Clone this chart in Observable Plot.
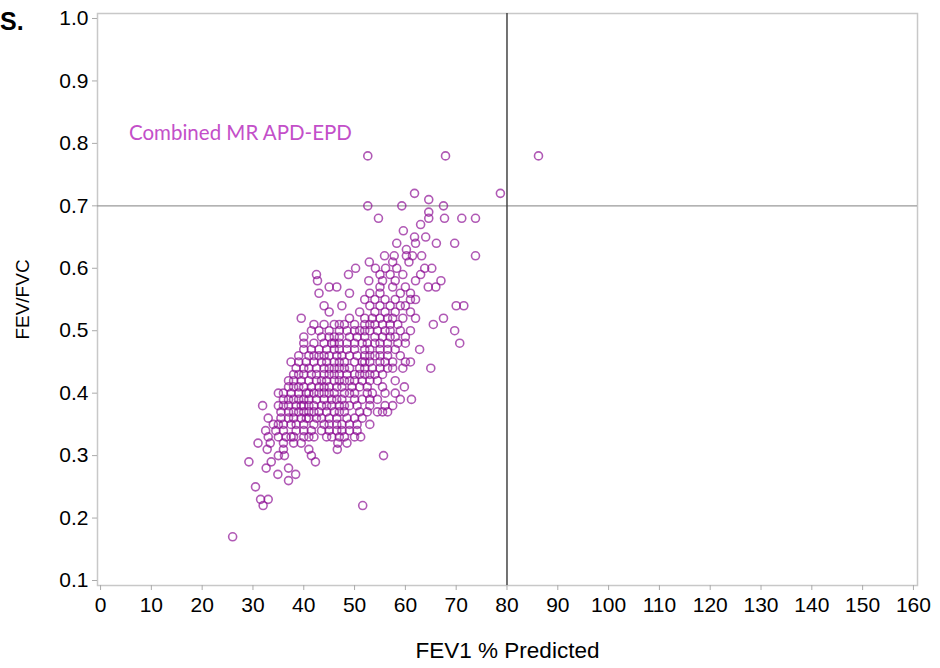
<!DOCTYPE html>
<html>
<head>
<meta charset="utf-8">
<script src="https://cdn.jsdelivr.net/npm/d3@7"></script>
<script src="https://cdn.jsdelivr.net/npm/@observablehq/plot@0.6"></script>
<style>
  html, body { margin: 0; padding: 0; background: #fff; }
  #wrap { position: relative; width: 940px; height: 668px; overflow: hidden; }
  #panel { position: absolute; left: 0px; top: 7px; font: bold 25px "Liberation Sans", Arial, sans-serif; color: #000; }
</style>
</head>
<body>
<div id="wrap"><div id="panel">S.</div></div>
<script>
// FEV/FVC levels (rounded to 0.01) and the FEV1 % predicted values observed at each level
const ratioLevels = [0.78, 0.72, 0.71, 0.70, 0.69, 0.68, 0.67, 0.66, 0.65, 0.64, 0.63, 0.62, 0.61, 0.60,
  0.59, 0.58, 0.57, 0.56, 0.55, 0.54, 0.53, 0.52, 0.51, 0.50, 0.49, 0.48, 0.47, 0.46, 0.45, 0.44,
  0.43, 0.42, 0.41, 0.40, 0.39, 0.38, 0.37, 0.36, 0.35, 0.34, 0.33, 0.32, 0.31, 0.30, 0.29, 0.28,
  0.27, 0.26, 0.25, 0.23, 0.22, 0.17];
const fev1AtLevel = [
  [52.6, 67.9, 86.2],
  [61.8, 78.7],
  [64.6],
  [52.6, 59.3, 67.5],
  [64.6],
  [54.7, 64.6, 67.7, 71.1, 73.8],
  [63.0],
  [59.6],
  [61.8, 64.0],
  [58.3, 62.0, 66.1, 69.7],
  [60.2],
  [55.9, 57.8, 60.2, 61.4, 63.2, 73.8],
  [52.9, 57.5, 60.7],
  [50.2, 54.1, 56.1, 58.3, 63.8, 65.2],
  [42.5, 48.8, 55.0, 57.0, 59.5, 63.0],
  [42.7, 52.8, 55.5, 58.0, 62.0, 67.0],
  [45.0, 46.5, 55.0, 57.5, 60.0, 64.5, 66.0],
  [43.0, 49.0, 53.0, 55.0, 59.0, 61.0],
  [52.0, 54.0, 56.0, 58.0, 61.0, 62.0],
  [44.0, 47.5, 53.0, 55.0, 57.0, 59.0, 60.0, 70.0, 71.5],
  [45.0, 51.0, 54.0, 56.0, 58.0, 61.0],
  [39.5, 49.0, 52.0, 53.5, 55.0, 56.5, 57.5, 59.5, 62.0, 67.5],
  [42.0, 44.0, 46.0, 47.0, 48.0, 50.0, 52.0, 53.0, 54.0, 55.5, 57.0, 58.5, 65.5],
  [41.5, 43.0, 45.0, 47.0, 48.5, 50.0, 51.0, 52.0, 53.0, 54.5, 56.0, 57.0, 59.0, 61.0, 69.7],
  [40.0, 43.5, 45.0, 46.0, 47.0, 49.0, 50.5, 52.0, 54.0, 55.5, 57.0, 58.0, 60.0],
  [40.0, 42.0, 44.0, 45.5, 46.0, 47.0, 48.5, 50.0, 51.5, 52.5, 54.0, 55.0, 56.5, 58.5, 60.0, 70.7],
  [40.0, 41.5, 43.0, 44.5, 46.0, 47.0, 48.5, 50.0, 52.0, 53.0, 55.0, 56.5, 58.0, 62.8],
  [39.0, 41.0, 42.0, 43.0, 44.0, 45.0, 46.5, 47.5, 49.0, 50.5, 52.0, 53.0, 54.0, 55.0, 56.5, 59.0],
  [37.5, 39.0, 40.5, 42.0, 43.5, 44.5, 46.0, 47.0, 48.0, 50.0, 51.5, 52.0, 53.0, 55.0, 56.0, 57.5, 60.0, 61.0],
  [38.5, 40.0, 41.0, 42.5, 44.0, 45.0, 46.0, 47.0, 48.0, 49.0, 51.0, 52.0, 53.5, 55.0, 56.5, 57.5, 59.5, 65.0],
  [38.0, 39.0, 40.0, 41.5, 42.5, 44.0, 45.0, 46.0, 47.0, 48.5, 50.0, 51.0, 52.0, 53.0, 54.0, 55.5],
  [37.0, 38.0, 39.5, 41.0, 42.5, 43.5, 44.5, 46.0, 47.0, 48.0, 49.0, 50.0, 51.5, 53.0, 54.5, 58.0],
  [37.0, 38.0, 39.0, 40.0, 41.5, 43.0, 44.0, 45.0, 46.5, 47.5, 49.5, 51.0, 52.5, 55.5, 59.8],
  [35.0, 36.0, 37.5, 39.0, 40.5, 41.0, 42.0, 43.0, 44.0, 45.0, 46.0, 48.0, 49.0, 50.0, 52.5, 53.5, 56.0, 58.0],
  [36.0, 37.0, 38.0, 39.0, 40.0, 41.0, 42.5, 44.0, 45.5, 46.5, 47.5, 50.0, 51.5, 53.0, 54.5, 59.0, 61.2],
  [31.9, 35.0, 36.0, 37.0, 38.5, 39.5, 40.0, 41.0, 42.0, 43.5, 44.5, 45.5, 47.0, 48.0, 49.0, 50.5, 53.0, 56.0, 57.5],
  [35.5, 37.0, 38.0, 39.0, 40.0, 41.0, 42.0, 43.0, 44.5, 46.0, 47.0, 48.0, 51.0, 52.5, 54.5, 55.5, 56.5],
  [33.0, 35.5, 37.0, 38.0, 39.5, 40.5, 41.0, 42.5, 43.5, 45.0, 46.5, 48.5, 50.0, 51.5],
  [34.0, 35.0, 36.0, 37.5, 38.5, 40.0, 42.0, 44.0, 45.0, 46.5, 47.5, 49.0, 50.5, 53.0],
  [32.5, 34.5, 36.0, 38.5, 40.0, 41.5, 43.5, 45.0, 46.5, 47.5, 49.0, 50.5],
  [33.0, 35.0, 36.5, 37.5, 38.0, 40.0, 41.0, 42.0, 44.5, 45.5, 47.0, 48.0, 50.0, 51.2],
  [31.0, 33.4, 36.0, 38.0, 39.5, 46.7, 48.5],
  [32.8, 36.0, 41.0, 46.6],
  [35.0, 36.2, 41.5, 55.7],
  [29.2, 33.6, 42.3],
  [32.6, 37.0],
  [34.9, 38.4],
  [37.0],
  [30.5],
  [31.5, 33.0],
  [32.0, 51.6],
  [26.0]
];
const xTicks = [0, 10, 20, 30, 40, 50, 60, 70, 80, 90, 100, 110, 120, 130, 140, 150, 160];
const yTicks = [0.1, 0.2, 0.3, 0.4, 0.5, 0.6, 0.7, 0.8, 0.9, 1.0];
const fev1Cutoff = [80];
const ratioCutoff = [0.7];
const seriesLabel = [{x: 5.6, y: 0.816, text: "Combined MR APD-EPD"}];

const points = ratioLevels.flatMap((r, i) => fev1AtLevel[i].map(f => ({fev1: f, ratio: r})));

const chart = Plot.plot({
  width: 940,
  height: 668,
  marginLeft: 97,
  marginRight: 23,
  marginTop: 13,
  marginBottom: 83,
  style: {fontFamily: "'Liberation Sans', Arial, sans-serif", fontSize: "21px", color: "#000", background: "transparent"},
  x: {domain: [-0.6, 160.8]},
  y: {domain: [0.092, 1.008]},
  marks: [
    Plot.frame({stroke: "#c8c8c8", strokeWidth: 1.5}),
    Plot.ruleY(ratioCutoff, {stroke: "#9a9a9a", strokeWidth: 1.2}),
    Plot.ruleX(fev1Cutoff, {stroke: "#444", strokeWidth: 1.5}),
    Plot.dot(points, {x: "fev1", y: "ratio", r: 4, stroke: "#8a0a92", strokeOpacity: 0.68, strokeWidth: 1.6, fill: "none"}),
    Plot.text(seriesLabel, {x: "x", y: "y", text: "text", textAnchor: "start", fill: "#c34fc9", fontSize: 20.5, fontFamily: "Lato, 'Open Sans', sans-serif"}),
    Plot.axisX({ticks: xTicks, tickSize: 5, tickPadding: 7, stroke: "#aaa", fill: "#000", label: null}),
    Plot.axisX({ticks: [], label: "FEV1 % Predicted", labelAnchor: "center", labelArrow: "none", labelOffset: 72, fontSize: 22.5, fill: "#000"}),
    Plot.axisY({ticks: yTicks, tickFormat: d3.format(".1f"), tickSize: 5, tickPadding: 4, stroke: "#aaa", fill: "#000", label: null}),
    Plot.axisY({ticks: [], label: "FEV/FVC", labelAnchor: "center", labelArrow: "none", labelOffset: 82, fontSize: 19, fill: "#000"})
  ]
});
document.getElementById("wrap").prepend(chart);
</script>
</body>
</html>
